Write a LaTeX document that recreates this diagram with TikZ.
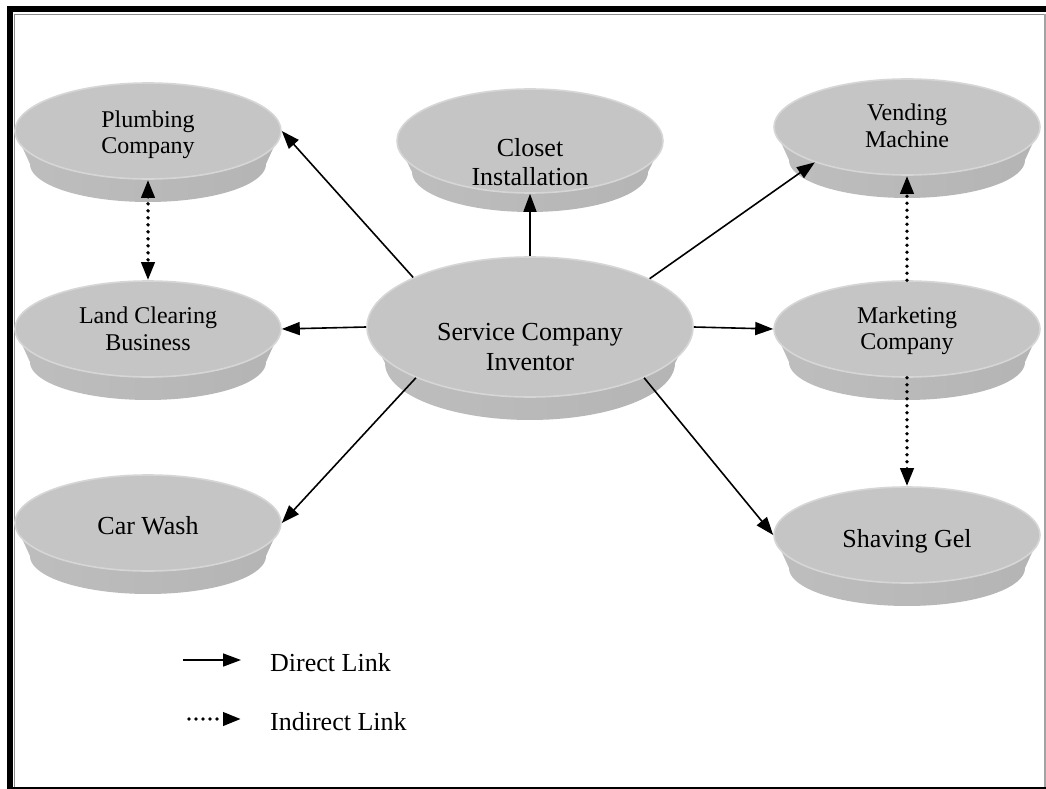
\documentclass[tikz,border=0pt]{standalone}
\usepackage{fontspec}
\setmainfont{Liberation Serif}
\usetikzlibrary{shapes.geometric,arrows.meta}

\definecolor{facegray}{HTML}{C5C5C5}
\definecolor{rimgray}{HTML}{D6D6D6}
\definecolor{bandleft}{HTML}{BEBEBE}
\definecolor{bandmid}{HTML}{A6A6A6}
\definecolor{bandright}{HTML}{B4B4B4}
\definecolor{framegray}{HTML}{8C8C8C}

\newcommand\discfontA{\fontsize{24}{26.5}\selectfont}
\newcommand\discfontB{\fontsize{26}{29.5}\selectfont}

\tikzset{
  face/.style={ellipse, draw=rimgray, line width=1.6pt, fill=facegray, inner sep=0pt},
  disclabel/.style={align=center, inner sep=0pt, text=black},
  bigtip/.tip={Triangle[length=18pt,width=13pt]},
  direct/.style={line width=1.6pt, -bigtip},
  dotline/.style={line width=3.8pt, line cap=round, dash pattern=on 0pt off 7pt},
  indirect/.style={dotline, -bigtip},
  bothindirect/.style={dotline, bigtip-bigtip},
}

% \disc{name}{cx}{cy}{rx}{ry}{band depth}{band rx}{band ry}: shaded side band, then the top face
\newcommand\disc[8]{%
  \pgfmathsetmacro\dxl{#2-#4}\pgfmathsetmacro\dxr{#2+#4}%
  \path[left color=bandleft, middle color=bandmid, right color=bandright]
    (\dxl,#3) -- plot[domain=180:360, samples=60] ({#2+#7*cos(\x)}, {#3+#6-#8*sin(\x)})
    -- (\dxr,#3) -- cycle;
  \node[face, minimum width=2*#4 pt, minimum height=2*#5 pt] (#1) at (#2,#3) {};
}

\begin{document}
\begin{tikzpicture}[x=1pt, y=-1pt]
  \useasboundingbox (0,0) rectangle (1046,789);
  \fill[white] (0,0) rectangle (1046,789);

  % page frame: thick-thin on top and left, thin on right and bottom
  \draw[line width=6pt, line join=miter] (10,789) -- (10,9) -- (1046,9);
  \draw[framegray, line width=1.4pt] (14.6,789) -- (14.6,14.6) -- (1046,14.6);
  \draw[framegray!80, line width=1.6pt] (1045.2,14) -- (1045.2,789);
  \draw[line width=1.8pt] (13,788.1) -- (1046,788.1);

  % discs
  \disc{plumb}{148}{131}{133}{48}{33}{118}{38}
  \disc{land}{148}{329}{133}{48}{33}{118}{38}
  \disc{car}{148}{523}{133}{48}{33}{118}{38}
  \disc{closet}{530}{141}{133}{52}{31}{118}{40}
  \disc{svc}{530}{327}{163}{70}{36}{145}{57}
  \disc{vend}{907}{127}{133}{48}{33}{118}{38}
  \disc{mkt}{907}{329}{133}{48}{33}{118}{38}
  \disc{shave}{907}{535}{133}{48}{33}{118}{38}

  % disc texts
  \node[disclabel, font=\discfontA] (plumb-t) at (148,135) {Plumbing\\Company};
  \node[disclabel, font=\discfontA] (land-t) at (148,329) {Land Clearing\\Business};
  \node[disclabel, font=\discfontB] (car-t) at (148,526) {Car Wash};
  \node[disclabel, font=\discfontB] (closet-t) at (530,162) {Closet\\Installation};
  \node[disclabel, font=\discfontB] (svc-t) at (530,347) {Service Company\\Inventor};
  \node[disclabel, font=\discfontA] (vend-t) at (907,126) {Vending\\Machine};
  \node[disclabel, font=\discfontA] (mkt-t) at (907,331) {Marketing\\Company};
  \node[disclabel, font=\discfontB] (shave-t) at (907,541) {Shaving Gel};

  % direct links
  \draw[direct] (svc.157) -- (plumb.east);
  \draw[direct] (svc.north) -- (closet.south);
  \draw[direct] (svc.22) -- (vend.201);
  \draw[direct] (svc.west) -- (land.east);
  \draw[direct] (svc.east) -- (mkt.west);
  \draw[direct] (svc.204) -- (car.east);
  \draw[direct] (svc.336) -- (shave.west);

  % indirect links
  \draw[bothindirect] (plumb.south) -- (land.north);
  \draw[indirect] (mkt.north) -- (vend.south);
  \draw[indirect] (mkt.south) -- (shave.north);

  % legend
  \coordinate (lg1a) at (183,660);
  \coordinate (lg1b) at (241,660);
  \coordinate (lg2a) at (189,719);
  \coordinate (lg2b) at (241,719);
  \draw[direct] (lg1a) -- (lg1b);
  \draw[indirect] (lg2a) -- (lg2b);
  \node[anchor=base west, inner sep=0pt, font=\discfontB] (lg1-t) at (270,671) {Direct Link};
  \node[anchor=base west, inner sep=0pt, font=\discfontB] (lg2-t) at (270,730) {Indirect Link};
\end{tikzpicture}
\end{document}
